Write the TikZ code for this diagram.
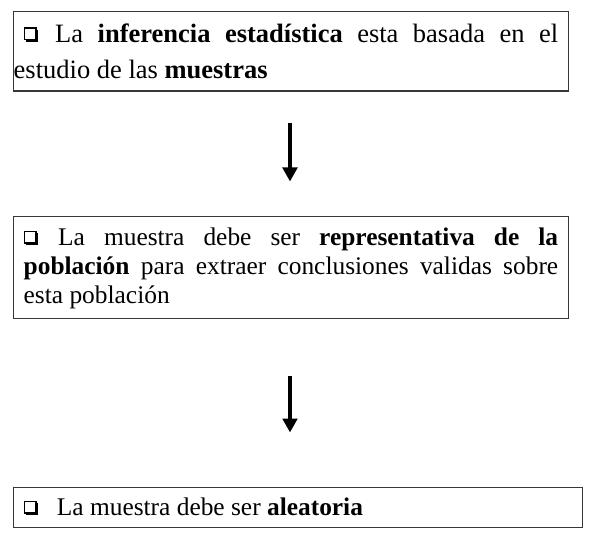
\documentclass[tikz,border=0pt]{standalone}
\usepackage{fontspec}
\setmainfont{Liberation Serif}
\usetikzlibrary{arrows.meta}
\definecolor{framegray}{RGB}{55,55,55}
\tikzset{
  boxframe/.style={draw=framegray, line width=1.1pt, inner sep=0pt, anchor=north west, fill=white},
  bulsq/.style={draw=black, line width=1.5pt, fill=white, minimum size=11.5pt, inner sep=0pt, outer sep=0pt},
  bulsh/.style={fill=black, minimum size=12pt, inner sep=0pt, outer sep=0pt},
  txt/.style={inner sep=0pt, anchor=base west, font=\fontsize{25.4}{30}\selectfont},
  txtbig/.style={txt, font=\fontsize{26.5}{30}\selectfont},
  flowarrow/.style={line width=4.2pt, -{Triangle[width=14.5pt,length=14pt]}}
}
\begin{document}
\begin{tikzpicture}[x=1pt,y=-1pt]
\useasboundingbox (0,0) rectangle (590,535);
% boxes
\node[boxframe, minimum width=555.5pt, minimum height=79.5pt] (box1) at (12.5,11) {};
\node[boxframe, minimum width=555.5pt, minimum height=102pt] (box2) at (12.5,215.5) {};
\node[boxframe, minimum width=569.5pt, minimum height=40pt] (box3) at (12.5,487) {};
% bullets
\node[bulsh] (s1) at (32.2,35.8) {};
\node[bulsq] (b1) at (30.4,34) {};
\node[bulsh] (s2) at (32.2,238.8) {};
\node[bulsq] (b2) at (30.4,237) {};
\node[bulsh] (s3) at (32.2,508.8) {};
\node[bulsq] (b3) at (30.4,507) {};
% texts
\node[txtbig] (t11) at (55,42.5) {\hbox to 503pt{La \textbf{inferencia} \textbf{estadística} esta basada en el}};
\node[txtbig] (t12) at (13.5,79) {estudio de las \textbf{muestras}};
\node[txt] (t21) at (58,245) {\hbox to 500pt{La muestra debe ser \textbf{representativa} \textbf{de} \textbf{la}}};
\node[txt] (t22) at (23.5,274) {\hbox to 534.5pt{\textbf{población} para extraer conclusiones validas sobre}};
\node[txt] (t23) at (23.5,303) {esta población};
\node[txt] (t31) at (56.7,515) {La muestra debe ser \textbf{aleatoria}};
% arrows
\coordinate (a1s) at (290,123);
\coordinate (a1e) at (290,181.5);
\coordinate (a2s) at (290,376);
\coordinate (a2e) at (290,432.5);
\draw[flowarrow] (a1s) -- (a1e);
\draw[flowarrow] (a2s) -- (a2e);
\end{tikzpicture}
\end{document}
